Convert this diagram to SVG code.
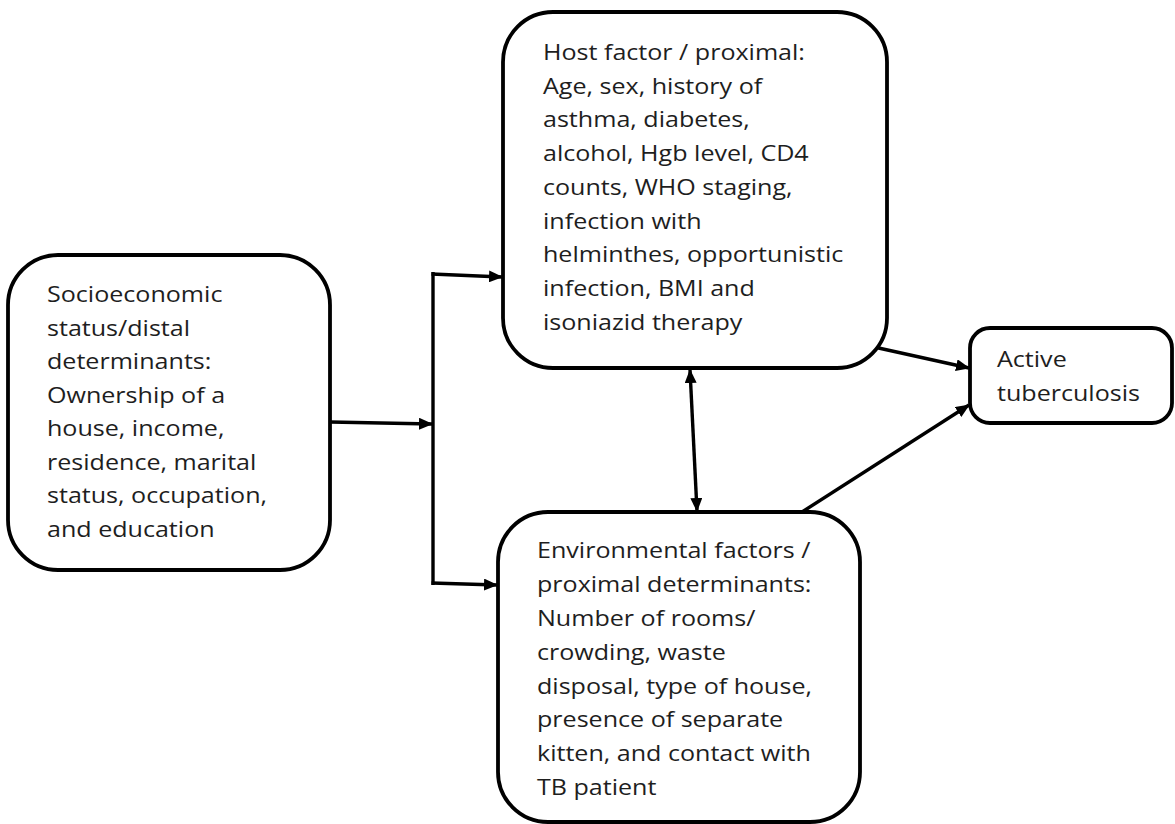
<svg xmlns="http://www.w3.org/2000/svg" width="1175" height="824" viewBox="0 0 1175 824">
<style>
.box{fill:#fff;stroke:#000;stroke-width:3.8}
.t{font-family:"Open Sans","Liberation Sans",sans-serif;font-size:22px;fill:#1e1e1e}
.c{fill:none;stroke:#000;stroke-width:3.4}
</style>
<defs>
<marker id="ah" markerUnits="userSpaceOnUse" markerWidth="14" markerHeight="12" refX="13" refY="6" orient="auto-start-reverse">
<path d="M0,0 L14,6 L0,12 z" fill="#000"/>
</marker>
</defs>
<rect width="1175" height="824" fill="#fff"/>
<g id="connectors">
<line class="c" x1="330" y1="422" x2="432" y2="424" marker-end="url(#ah)"/>
<line class="c" x1="433" y1="272" x2="433" y2="585"/>
<line class="c" x1="431.5" y1="274" x2="502" y2="277" marker-end="url(#ah)"/>
<line class="c" x1="431.5" y1="583" x2="497" y2="585" marker-end="url(#ah)"/>
<line class="c" x1="690" y1="370" x2="697" y2="511" marker-start="url(#ah)" marker-end="url(#ah)"/>
<line class="c" x1="874" y1="347" x2="969" y2="368" marker-end="url(#ah)"/>
<line class="c" x1="802" y1="512" x2="969" y2="405" marker-end="url(#ah)"/>
</g>
<g id="socio">
<rect class="box" x="8" y="255" width="322" height="315" rx="50" ry="50"/>
<text class="t" transform="translate(47,0) scale(1.14,1)"><tspan x="0" y="302">Socioeconomic</tspan><tspan x="0" y="336">status/distal</tspan><tspan x="0" y="369">determinants:</tspan><tspan x="0" y="403">Ownership of a</tspan><tspan x="0" y="436">house, income,</tspan><tspan x="0" y="470">residence, marital</tspan><tspan x="0" y="503">status, occupation,</tspan><tspan x="0" y="537">and education</tspan></text>
</g>
<g id="host">
<rect class="box" x="503" y="12" width="384" height="356" rx="50" ry="50"/>
<text class="t" transform="translate(543,0) scale(1.14,1)"><tspan x="0" y="60">Host factor / proximal:</tspan><tspan x="0" y="94">Age, sex, history of</tspan><tspan x="0" y="127">asthma, diabetes,</tspan><tspan x="0" y="161">alcohol, Hgb level, CD4</tspan><tspan x="0" y="195">counts, WHO staging,</tspan><tspan x="0" y="229">infection with</tspan><tspan x="0" y="262">helminthes, opportunistic</tspan><tspan x="0" y="296">infection, BMI and</tspan><tspan x="0" y="330">isoniazid therapy</tspan></text>
</g>
<g id="env">
<rect class="box" x="498" y="512" width="362" height="310" rx="50" ry="50"/>
<text class="t" transform="translate(537,0) scale(1.14,1)"><tspan x="0" y="558">Environmental factors /</tspan><tspan x="0" y="592">proximal determinants:</tspan><tspan x="0" y="626">Number of rooms/</tspan><tspan x="0" y="660">crowding, waste</tspan><tspan x="0" y="694">disposal, type of house,</tspan><tspan x="0" y="727">presence of separate</tspan><tspan x="0" y="761">kitten, and contact with</tspan><tspan x="0" y="795">TB patient</tspan></text>
</g>
<g id="active">
<rect class="box" x="970" y="328" width="202" height="95" rx="20" ry="20"/>
<text class="t" transform="translate(997,0) scale(1.14,1)"><tspan x="0" y="367">Active</tspan><tspan x="0" y="401">tuberculosis</tspan></text>
</g>
</svg>
